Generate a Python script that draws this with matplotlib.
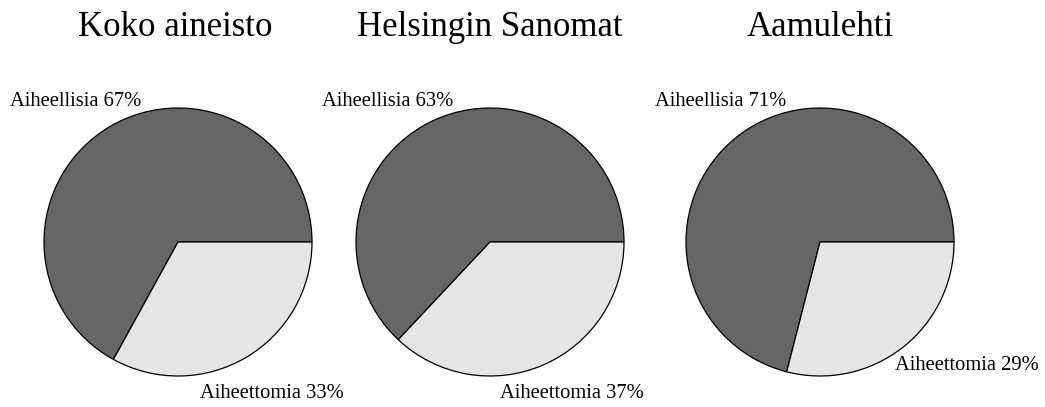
import matplotlib
matplotlib.use("Agg")
import matplotlib.pyplot as plt

titles = ["Koko aineisto", "Helsingin Sanomat", "Aamulehti"]
categories = ["Aiheellisia", "Aiheettomia"]
aiheellisia = [67, 63, 71]
aiheettomia = [33, 37, 29]

colors = ["#666666", "#e5e5e5"]
W, H = 1045, 407
centers_x = [178, 490, 820]
center_y = 242
radius = 134
title_x = [175, 490, 820]
lab1_pos = [(10, 101), (322, 101), (655, 101)]
lab2_pos = [(200, 393), (500, 393), (895, 366)]

plt.rcParams['font.family'] = ['Liberation Serif', 'DejaVu Serif']
fig = plt.figure(figsize=(W / 100, H / 100), dpi=100)
ax = fig.add_axes([0, 0, 1, 1])

for i in range(3):
    vals = [aiheellisia[i], aiheettomia[i]]
    ax.pie(vals, colors=colors, startangle=0, counterclock=True,
           center=(centers_x[i], H - center_y), radius=radius,
           wedgeprops=dict(edgecolor='black', linewidth=0.9),
           frame=True)
    ax.text(title_x[i], H - 28, titles[i], ha='center', va='center', fontsize=25)
    ax.text(lab1_pos[i][0], H - lab1_pos[i][1], f"{categories[0]} {aiheellisia[i]}%",
            ha='left', va='center', fontsize=14.8)
    ax.text(lab2_pos[i][0], H - lab2_pos[i][1], f"{categories[1]} {aiheettomia[i]}%",
            ha='left', va='center', fontsize=14.8)

ax.set_xlim(0, W)
ax.set_ylim(0, H)
ax.set_aspect('equal')
ax.axis('off')
fig.savefig("out.png", dpi=100)
